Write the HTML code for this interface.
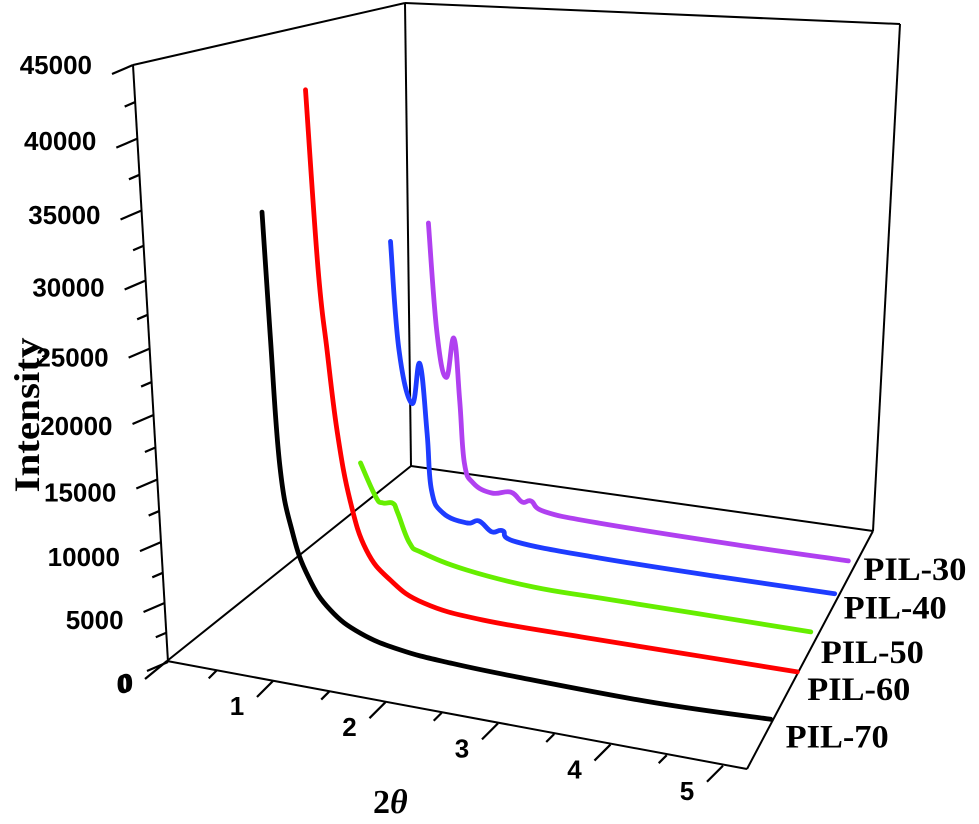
<!DOCTYPE html>
<html><head><meta charset="utf-8"><style>
html,body{margin:0;padding:0;background:#fff;}
svg{display:block;}
</style></head><body>
<svg id="chart" width="979" height="824" viewBox="0 0 979 824" xmlns="http://www.w3.org/2000/svg">
<g id="frame" stroke="#000" stroke-width="2" fill="none">
  <line x1="167" y1="661" x2="747" y2="769"/>
  <line x1="167" y1="661" x2="411" y2="466"/>
  <line x1="411" y1="466" x2="873" y2="531"/>
  <line x1="873" y1="531" x2="747" y2="769"/>
  <line x1="873" y1="531" x2="900" y2="24"/>
  <line x1="405" y1="3" x2="900" y2="24"/>
  <line x1="405" y1="3" x2="411" y2="466"/>
  <line x1="133" y1="65" x2="405" y2="3"/>
  <line x1="168" y1="662" x2="133" y2="65"/>
</g>
<g id="ticks" stroke="#000" stroke-width="2.2"></g>
<g id="labels" font-family="Liberation Sans, Arial, sans-serif" font-weight="bold" font-size="26" fill="#000"></g>
<g id="series" fill="none" stroke-width="4.8" stroke-linejoin="round" stroke-linecap="round"></g>
<g id="legend" font-family="Liberation Serif, Times New Roman, serif" font-weight="bold" font-size="33" fill="#000"></g>
<text transform="translate(39,415) rotate(-90)" text-anchor="middle" font-family="Liberation Serif, serif" font-weight="bold" font-size="36" textLength="155" lengthAdjust="spacingAndGlyphs">Intensity</text>
<text x="373" y="813" font-family="Liberation Serif, serif" font-weight="bold" font-size="34">2<tspan font-style="italic">θ</tspan></text>
</svg>
<script>
const seriesNames = ["PIL-30","PIL-40","PIL-50","PIL-60","PIL-70"];
const seriesColors = ["#b040f0","#1e3cff","#66ee00","#ff0000","#000000"];
const seriesDepth = [0.45,0.389,0.287,0.225,0.11];
const pil30X = [1.60,1.62,1.68,1.77,1.79,1.80,1.87,2.03,2.20,2.30,2.38,2.50,2.98,4.20,5.20];
const pil30Y = [30070,22030,18680,21810,17070,12160,10670,10140,10510,9870,10090,9430,9340,9680,10090];
const pil40X = [1.39,1.41,1.50,1.59,1.62,1.63,1.72,1.93,2.04,2.15,2.25,2.37,3.11,4.20,5.20];
const pil40Y = [29280,21240,17290,20500,15160,10660,8970,8510,8870,8170,8420,7710,7680,8000,8390];
const pil50X = [1.24,1.36,1.42,1.51,1.55,1.64,1.75,2.14,2.73,3.33,4.20,5.20];
const pil50Y = [13770,11260,10880,11010,10280,8000,7390,6650,6280,6410,6640,6900];
const pil60X = [1.08,1.10,1.14,1.19,1.27,1.39,1.59,1.88,2.40,3.28,4.20,5.20];
const pil60Y = [41740,29310,23200,16990,11750,7990,5860,4450,3960,4100,4330,4580];
const pil70X = [0.89,0.90,0.92,1.00,1.12,1.30,1.56,1.91,2.35,2.95,4.17,5.20];
const pil70Y = [34540,25870,15700,10550,7140,4730,3240,2450,2140,2020,2040,2490];
const yTickValues = [0,5000,10000,15000,20000,25000,30000,35000,40000,45000];
const yTickLabels = ["0","5000","10000","15000","20000","25000","30000","35000","40000","45000"];
const xTickValues = [1,2,3,4,5];
const xTickLabels = ["0","1","2","3","4","5"];

const NS="http://www.w3.org/2000/svg";
function hOf(I){const n=I/5000;return 58.08*n+0.917*n*n;}
function proj(x,d,I){const h=hOf(I);const u=x-0.058;
  return [167+u*112.5+d*244-h*0.0571, 661+u*21.2-d*196-h];}
function yAxisPt(I){const h=hOf(I);return [168-35*h/597,662-h];}
function xAxisPt(x){const u=x-0.058;return [167+u*112.5,661+u*21.2];}
function mk(tag,attrs,parent){const e=document.createElementNS(NS,tag);for(const k in attrs)e.setAttribute(k,attrs[k]);parent.appendChild(e);return e;}
function smoothPath(pts){
  let d='M'+pts[0][0].toFixed(1)+','+pts[0][1].toFixed(1);
  for(let i=0;i<pts.length-1;i++){
    const p0=pts[Math.max(0,i-1)],p1=pts[i],p2=pts[i+1],p3=pts[Math.min(pts.length-1,i+2)];
    const t=0.2;
    const c1=[p1[0]+(p2[0]-p0[0])*t,p1[1]+(p2[1]-p0[1])*t];
    const c2=[p2[0]-(p3[0]-p1[0])*t,p2[1]-(p3[1]-p1[1])*t];
    d+=' C'+c1[0].toFixed(1)+','+c1[1].toFixed(1)+' '+c2[0].toFixed(1)+','+c2[1].toFixed(1)+' '+p2[0].toFixed(1)+','+p2[1].toFixed(1);
  }
  return d;
}

const ticks=document.getElementById('ticks'), labels=document.getElementById('labels');
for(let v=0;v<=45000;v+=2500){
  const p=yAxisPt(v);const major=v%5000===0;const L=major?1:0.5;
  const t=mk('line',{x1:p[0],y1:p[1],x2:p[0]-21*L,y2:p[1]+9*L},ticks);
  
  
}
yTickValues.forEach((v,i)=>{
  const p=yAxisPt(v);
  const zero=(v===0);
  const off=17*(p[1]-65)/540;
  const t=mk('text',{x:zero?p[0]-37:p[0]-41,y:zero?p[1]+31:p[1]+off+9,'text-anchor':'end'},labels);
  t.textContent=yTickLabels[i];
  
  
});
for(let v=0.5;v<=5.0001;v+=0.5){
  const p=xAxisPt(v);const major=Math.abs(v-Math.round(v))<1e-6;const L=major?1:0.5;
  const t=mk('line',{x1:p[0],y1:p[1],x2:p[0]-16*L,y2:p[1]+16*L},ticks);
  
  
}
{const p=xAxisPt(0.058);const t=mk('line',{x1:p[0],y1:p[1],x2:p[0]-22,y2:p[1]+18},ticks);
 
 
 const z=mk('text',{x:p[0]-41,y:p[1]+31,'text-anchor':'middle'},labels);z.textContent=xTickLabels[0];
 
 }
xTickValues.forEach((v,i)=>{
  const p=xAxisPt(v);
  const t=mk('text',{x:p[0]-36,y:p[1]+34,'text-anchor':'middle'},labels);
  t.textContent=xTickLabels[i+1];
  
  
});
const sx=[pil30X,pil40X,pil50X,pil60X,pil70X], sy=[pil30Y,pil40Y,pil50Y,pil60Y,pil70Y];
const g=document.getElementById('series'), lg=document.getElementById('legend');
const legendOff=[[15,19],[9,25],[10,31],[10,28],[15,28]];
seriesNames.forEach((name,i)=>{
  const pts=sx[i].map((x,j)=>proj(x,seriesDepth[i],sy[i][j]));
  const pl=mk('path',{d:smoothPath(pts),stroke:seriesColors[i]},g);
  
  
  const end=pts[pts.length-1];
  const t=mk('text',{x:end[0]+legendOff[i][0],y:end[1]+legendOff[i][1],textLength:103,lengthAdjust:'spacingAndGlyphs'},lg);
  t.textContent=name;
  
  
});
</script>
</body></html>
